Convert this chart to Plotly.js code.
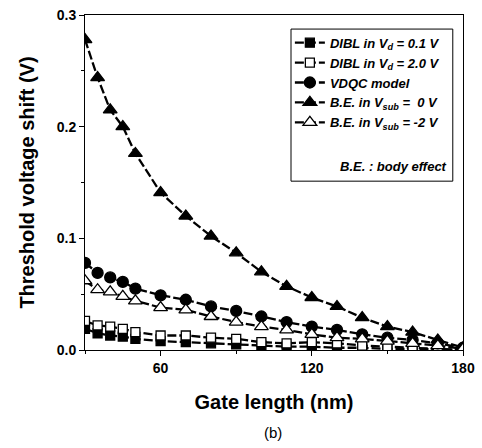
<!DOCTYPE html>
<html>
<head>
<meta charset="utf-8">
<script src="https://cdn.plot.ly/plotly-3.0.1.min.js"></script>
<style>html,body{margin:0;padding:0;background:#fff;}#chart{width:482px;height:448px;}</style>
</head>
<body>
<div id="chart"></div>
<script>
// Gate length (nm)
const gateLength = [30, 35, 40, 45, 50, 60, 70, 80, 90, 100, 110, 120, 130, 140, 150, 160, 170, 180];
// Threshold voltage shift (V)
const dibl01 = [0.019, 0.015, 0.013, 0.012, 0.010, 0.008, 0.007, 0.006, 0.005, 0.004, 0.003, 0.003, 0.002, 0.002, 0.001, 0.001, 0.0005, 0.0];
const dibl20 = [0.026, 0.022, 0.021, 0.019, 0.016, 0.013, 0.013, 0.011, 0.010, 0.007, 0.006, 0.007, 0.006, 0.004, 0.003, 0.002, 0.001, 0.0];
const vdqc   = [0.078, 0.069, 0.065, 0.061, 0.055, 0.049, 0.045, 0.039, 0.035, 0.030, 0.025, 0.021, 0.018, 0.014, 0.011, 0.009, 0.006, 0.002];
const beVsub0  = [0.278, 0.244, 0.215, 0.200, 0.176, 0.141, 0.120, 0.102, 0.087, 0.070, 0.057, 0.047, 0.039, 0.029, 0.021, 0.016, 0.009, 0.002];
const beVsubM2 = [0.062, 0.054, 0.052, 0.048, 0.044, 0.038, 0.036, 0.030, 0.025, 0.021, 0.018, 0.014, 0.011, 0.010, 0.008, 0.006, 0.004, 0.001];

const names = [
  'DIBL in V<sub>d</sub> = 0.1 V',
  'DIBL in V<sub>d</sub> = 2.0 V',
  'VDQC model',
  'B.E. in V<sub>sub</sub> =  0 V',
  'B.E. in V<sub>sub</sub> = -2 V'
];
const xTicks = [60, 120, 180];
const yTicks = [0.0, 0.1, 0.2, 0.3];
const yTickText = ['0.0', '0.1', '0.2', '0.3'];

const FONT = 'Arial, "Liberation Sans", sans-serif';
function tr(y, name, symbol, fill, size) {
  return {
    x: gateLength, y: y, name: name, type: 'scatter', mode: 'lines+markers',
    line: {color: '#000', width: 2.3, dash: '9px,3px'},
    marker: {symbol: symbol, size: size, color: fill, line: {color: '#000', width: 1.3}}
  };
}
const data = [
  tr(dibl01, names[0], 'square', '#000', 9),
  tr(dibl20, names[1], 'square', '#fff', 9),
  tr(vdqc, names[2], 'circle', '#000', 11),
  tr(beVsub0, names[3], 'triangle-up', '#000', 12),
  tr(beVsubM2, names[4], 'triangle-up', '#fff', 12)
];

const layout = {
  width: 482, height: 448,
  margin: {l: 85, r: 19, t: 15, b: 98},
  paper_bgcolor: '#fff', plot_bgcolor: '#fff',
  font: {family: FONT, color: '#000'},
  showlegend: true,
  legend: {
    x: 0.542, y: 0.962, xanchor: 'left', yanchor: 'top',
    bgcolor: 'rgba(0,0,0,0)', borderwidth: 0,
    font: {family: FONT, size: 13, weight: 'bold', style: 'italic', color: '#000'},
    tracegroupgap: 0, itemwidth: 30
  },
  xaxis: {
    range: [30, 180], tickvals: xTicks, ticktext: xTicks.map(String),
    ticks: 'outside', ticklen: 5, tickwidth: 1, tickcolor: '#000',
    minor: {tickvals: [30, 90, 150], ticks: 'outside', ticklen: 3, tickcolor: '#000'},
    showline: true, linecolor: '#000', linewidth: 1, mirror: true,
    showgrid: false, zeroline: false,
    tickfont: {family: FONT, size: 14, weight: 'bold'},
    title: {text: 'Gate length (nm)', font: {family: FONT, size: 20, weight: 'bold'}, standoff: 20}
  },
  yaxis: {
    range: [0, 0.3], tickvals: yTicks, ticktext: yTickText,
    ticks: 'outside', ticklen: 5, tickwidth: 1, tickcolor: '#000',
    minor: {tickvals: [0.05, 0.15, 0.25], ticks: 'outside', ticklen: 3, tickcolor: '#000'},
    showline: true, linecolor: '#000', linewidth: 1, mirror: true,
    showgrid: false, zeroline: false,
    tickfont: {family: FONT, size: 14, weight: 'bold'},
    title: {text: 'Threshold voltage shift (V)', font: {family: FONT, size: 20, weight: 'bold'}, standoff: 16}
  },
  shapes: [{
    type: 'rect', xref: 'paper', yref: 'paper',
    x0: 0.545, x1: 0.973, y0: 0.504, y1: 0.958,
    line: {color: '#000', width: 1}, fillcolor: 'rgba(0,0,0,0)'
  }],
  annotations: [
    {xref: 'paper', yref: 'paper', x: 0.962, y: 0.549, xanchor: 'right', yanchor: 'middle',
     text: 'B.E. : body effect', showarrow: false,
     font: {family: FONT, size: 13, weight: 'bold', style: 'italic'}},
    {xref: 'paper', yref: 'paper', x: 0.497, y: -0.245, xanchor: 'center', yanchor: 'middle',
     text: '(b)', showarrow: false, font: {family: FONT, size: 15}}
  ]
};
Plotly.newPlot('chart', data, layout, {displayModeBar: false, staticPlot: true});
</script>
</body>
</html>
